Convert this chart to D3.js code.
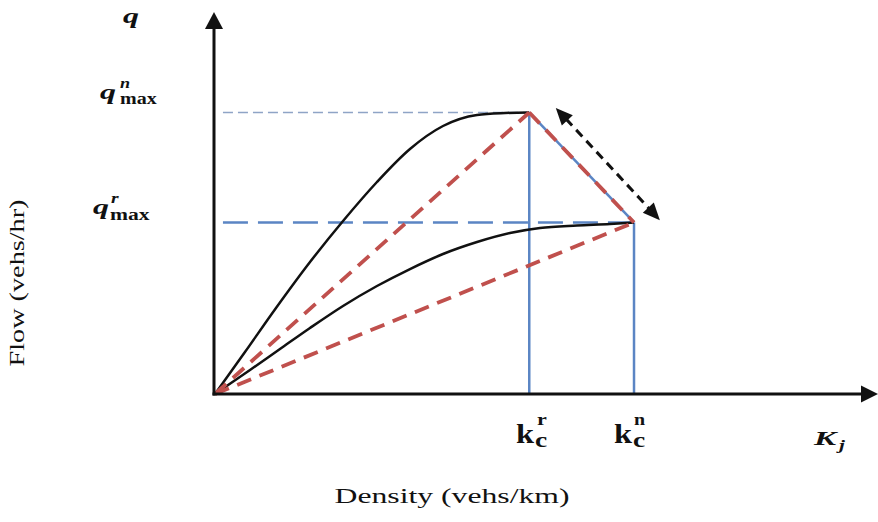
<!DOCTYPE html>
<html>
<head>
<meta charset="utf-8">
<script src="https://cdn.jsdelivr.net/npm/d3@7"></script>
<style>
  html, body { margin: 0; padding: 0; background: #fff; }
  svg { display: block; }
</style>
</head>
<body>
<svg id="chart" width="878" height="522"></svg>
<script>
// Flow–density (fundamental diagram) with normal (n) and reduced (r) capacity curves.
// Density k and flow q are in relative units (0–100 along each axis).
const kcR = 47.4;   // critical density, reduced regime
const kcN = 63.2;   // critical density, normal regime
const qMaxN = 73.7; // capacity, normal regime
const qMaxR = 44.9; // capacity, reduced regime

// Normal-regime flow curve (k, q)
const curveNk = [0, 4.52, 9.20, 14.33, 19.31, 24.43, 29.41, 34.39, 39.52, 43.74, kcR];
const curveNq = [0, 10.99, 22.51, 34.55, 45.29, 55.50, 64.14, 70.16, 73.04, 73.55, qMaxN];

// Reduced-regime flow curve (k, q)
const curveRk = [0, 5.28, 9.80, 14.33, 19.31, 24.43, 29.41, 34.39, 39.52, 44.49, 49.02, 54.60, 59.58, kcN];
const curveRq = [0, 6.28, 11.78, 17.28, 23.04, 28.27, 32.72, 36.65, 39.79, 42.15, 43.46, 44.11, 44.50, qMaxR];

// Double-headed arrow showing the shift of the capacity point
const shiftFrom = [51.4, 74.9];
const shiftTo = [67.1, 45.5];

const svg = d3.select("#chart");
const x = d3.scaleLinear().domain([0, 100]).range([215, 878]);
const y = d3.scaleLinear().domain([0, 100]).range([394, 12]);

const black = "#111";
const red = "#c0504d";
const blue = "#5b85c4";
const FONT = '"Liberation Serif"';

// Guide lines to the capacity values
svg.append("line")
  .attr("x1", x(1.2)).attr("x2", x(kcR))
  .attr("y1", y(qMaxN)).attr("y2", y(qMaxN))
  .attr("stroke", "#8fa4c6").attr("stroke-width", 1.5)
  .attr("stroke-dasharray", "10,5");
svg.append("line")
  .attr("x1", x(1.2)).attr("x2", x(kcN))
  .attr("y1", y(qMaxR)).attr("y2", y(qMaxR))
  .attr("stroke", blue).attr("stroke-width", 2.5)
  .attr("stroke-dasharray", "25,10");

// Critical density drop lines
[[kcR, qMaxN], [kcN, qMaxR]].forEach(([k, q]) => {
  svg.append("line")
    .attr("x1", x(k)).attr("x2", x(k))
    .attr("y1", y(q)).attr("y2", y(0))
    .attr("stroke", blue).attr("stroke-width", 2.5);
});

// Solid segment joining the two capacity points
svg.append("line")
  .attr("x1", x(kcR)).attr("y1", y(qMaxN))
  .attr("x2", x(kcN)).attr("y2", y(qMaxR))
  .attr("stroke", blue).attr("stroke-width", 2.5);

// Flow curves
const line = d3.line().x(d => x(d[0])).y(d => y(d[1])).curve(d3.curveMonotoneX);
svg.append("path")
  .attr("d", line(d3.zip(curveNk, curveNq)))
  .attr("fill", "none").attr("stroke", black).attr("stroke-width", 2.5);
svg.append("path")
  .attr("d", line(d3.zip(curveRk, curveRq)))
  .attr("fill", "none").attr("stroke", black).attr("stroke-width", 2.5);

// Secant (red dashed) lines
const redSegs = [
  [[0, 0], [kcR, qMaxN]],
  [[0, 0], [kcN, qMaxR]],
  [[kcR, qMaxN], [kcN, qMaxR]]
];
redSegs.forEach(([a, b]) => {
  svg.append("line")
    .attr("x1", x(a[0])).attr("y1", y(a[1]))
    .attr("x2", x(b[0])).attr("y2", y(b[1]))
    .attr("stroke", red).attr("stroke-width", 3.8)
    .attr("stroke-dasharray", "15,9");
});

// Axes with arrowheads
svg.append("line")
  .attr("x1", x(0) - 1).attr("x2", x(0) - 1)
  .attr("y1", y(0) + 1.5).attr("y2", y(100) + 12)
  .attr("stroke", black).attr("stroke-width", 3);
svg.append("line")
  .attr("x1", x(0) - 2.5).attr("x2", x(100) - 12)
  .attr("y1", y(0)).attr("y2", y(0))
  .attr("stroke", black).attr("stroke-width", 3);

function arrowHead(tx, ty, angle, len, wid) {
  // triangle with its tip at (tx, ty), pointing along angle
  const c = Math.cos(angle), s = Math.sin(angle);
  const bx = tx - c * len, by = ty - s * len;
  const px = -s * wid / 2, py = c * wid / 2;
  svg.append("polygon")
    .attr("points", [[tx, ty], [bx + px, by + py], [bx - px, by - py]].map(p => p.join(",")).join(" "))
    .attr("fill", black);
}
arrowHead(x(0) - 1, y(100), -Math.PI / 2, 17, 18);
arrowHead(x(100), y(0), 0, 17, 17);

// Capacity-shift arrow
{
  const x1 = x(shiftFrom[0]), y1 = y(shiftFrom[1]);
  const x2 = x(shiftTo[0]), y2 = y(shiftTo[1]);
  const ang = Math.atan2(y2 - y1, x2 - x1);
  const L = 15;
  svg.append("line")
    .attr("x1", x1 + Math.cos(ang) * L).attr("y1", y1 + Math.sin(ang) * L)
    .attr("x2", x2 - Math.cos(ang) * L).attr("y2", y2 - Math.sin(ang) * L)
    .attr("stroke", black).attr("stroke-width", 3)
    .attr("stroke-dasharray", "9,6");
  arrowHead(x1, y1, ang + Math.PI, 17, 15);
  arrowHead(x2, y2, ang, 17, 15);
}

// Labels
function label(txt, px, py, size, opts = {}) {
  return svg.append("text")
    .attr("transform", `translate(${px},${py}) scale(${opts.sx || 1},1)`)
    .style("font-family", FONT)
    .style("font-size", size + "px")
    .style("font-weight", opts.weight || "normal")
    .style("font-style", opts.style || "normal")
    .attr("text-anchor", opts.anchor || "start")
    .attr("fill", black)
    .text(txt);
}

// axis symbols
label("q", 123, 23, 22, { weight: "bold", style: "italic", sx: 1.45 });
label("K", 814, 445, 19, { weight: "bold", style: "italic", sx: 1.75 });
label("j", 839, 450, 15, { weight: "bold", style: "italic", sx: 1.4 });

// capacity labels
label("q", 100, 99, 22, { weight: "bold", style: "italic", sx: 1.45 });
label("n", 120, 88, 14, { weight: "bold", style: "italic", sx: 1.3 });
label("max", 120, 104, 16, { weight: "bold", sx: 1.25 });

label("q", 93, 214, 22, { weight: "bold", style: "italic", sx: 1.45 });
label("r", 111, 203, 14, { weight: "bold", style: "italic", sx: 1.4 });
label("max", 110, 220, 16, { weight: "bold", sx: 1.35 });

// critical density labels
label("k", 516, 443, 27, { weight: "bold", sx: 1.2 });
label("c", 535, 447, 22, { weight: "bold", sx: 1.25 });
label("r", 537, 425, 17, { weight: "bold", sx: 1.3 });

label("k", 614, 443, 27, { weight: "bold", sx: 1.2 });
label("c", 633, 447, 22, { weight: "bold", sx: 1.25 });
label("n", 634, 425, 16, { weight: "bold", sx: 1.25 });

// axis titles
svg.append("text")
  .attr("x", 452).attr("y", 503)
  .attr("text-anchor", "middle")
  .style("font-family", FONT).style("font-size", "21px")
  .attr("textLength", 235).attr("lengthAdjust", "spacingAndGlyphs")
  .attr("fill", black)
  .text("Density (vehs/km)");

svg.append("text")
  .attr("transform", "translate(24,283) rotate(-90)")
  .attr("text-anchor", "middle")
  .style("font-family", FONT).style("font-size", "21px")
  .attr("textLength", 167).attr("lengthAdjust", "spacingAndGlyphs")
  .attr("fill", black)
  .text("Flow (vehs/hr)");
</script>
</body>
</html>
